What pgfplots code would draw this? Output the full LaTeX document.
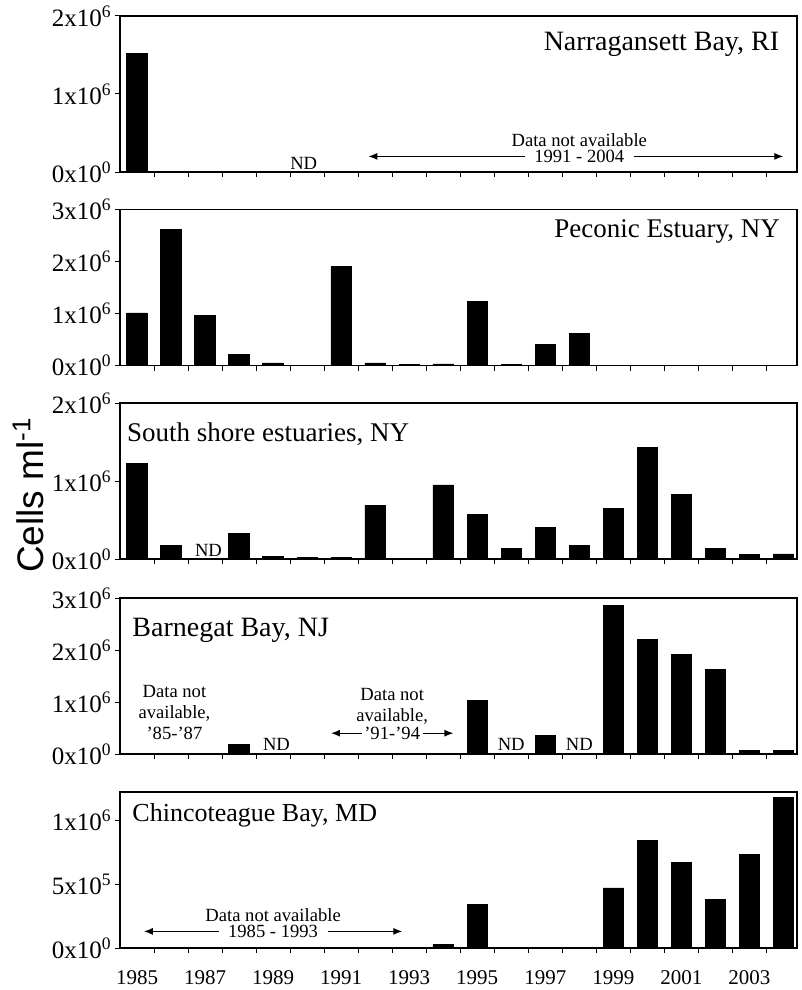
\documentclass[border=0pt]{standalone}
\usepackage{fontspec}
\setmainfont{Liberation Serif}
\newfontfamily\labelsans{Liberation Sans}
\usepackage{pgfplots}
\pgfplotsset{compat=1.18}
\usetikzlibrary{arrows.meta}

\pgfplotsset{
  panel/.style={
    scale only axis, width=338.5pt, height=78pt,
    xmin=1984.5, xmax=2004.4, ymin=0,
    axis line style={line width=0.9pt},
    ybar, bar width=0.6,
    xtick={1985,1987,...,2003}, xticklabels={},
    major x tick style={draw=none},
    minor xtick={1985.5,1986.5,...,2003.5},
    xtick pos=lower, ytick pos=left,
    tick align=outside, major tick length=2.5pt, minor tick length=2.5pt,
    tick style={line width=0.5pt, black},
    yticklabel style={font=\fontsize{12.5}{14}\selectfont, inner sep=1.5pt},
    xticklabel style={font=\fontsize{10.5}{12}\selectfont, yshift=-4.5pt,
      text height=7.5pt, text depth=0pt},
    scaled y ticks=false,
  },
  cells/.style={fill=black, draw=black},
}
\tikzset{
  paneltitle/.style={font=\fontsize{13.5}{15}\selectfont},
  note/.style={font=\fontsize{9.3}{10.5}\selectfont, align=center, inner sep=0.5pt},
  na/.style={-{Latex[length=4.5pt,width=3.5pt]}, line width=0.6pt},
}

\begin{document}
\begin{tikzpicture}

% Narragansett Bay, RI
\begin{axis}[panel, at={(60pt,-8pt)}, anchor=north west,
  ymax=2e6, ytick={0,1e6,2e6},
  yticklabels={0x10\textsuperscript{0},1x10\textsuperscript{6},2x10\textsuperscript{6}}]
\addplot[cells] coordinates {(1985,1.52e6)};
\node[paneltitle, anchor=east, font=\fontsize{14}{15}\selectfont] at (rel axis cs:0.984,0.82) {Narragansett Bay, RI};
\node[note, anchor=south] at (axis cs:1989.9,0.01e6) {ND};
\node[note] at (axis cs:1998,0.405e6) {Data not available};
\node[note] at (axis cs:1998,0.20e6) {1991 - 2004};
\draw[na] (axis cs:1996.4,0.20e6) -- (axis cs:1991.8,0.20e6);
\draw[na] (axis cs:1999.6,0.20e6) -- (axis cs:2004.0,0.20e6);
\end{axis}

% Peconic Estuary, NY
\begin{axis}[panel, at={(60pt,-104.75pt)}, anchor=north west,
  ymax=3e6, ytick={0,1e6,2e6,3e6},
  yticklabels={0x10\textsuperscript{0},1x10\textsuperscript{6},2x10\textsuperscript{6},3x10\textsuperscript{6}}]
\addplot[cells] coordinates {
  (1985,1.01e6) (1986,2.62e6) (1987,0.96e6) (1988,0.21e6) (1989,0.05e6)
  (1991,1.90e6) (1992,0.05e6) (1993,0.02e6) (1994,0.03e6) (1995,1.23e6)
  (1996,0.02e6) (1997,0.40e6) (1998,0.62e6)};
\node[paneltitle, anchor=east] at (rel axis cs:0.985,0.86) {Peconic Estuary, NY};
\end{axis}

% South shore estuaries, NY
\begin{axis}[panel, at={(60pt,-201.5pt)}, anchor=north west,
  ymax=2e6, ytick={0,1e6,2e6},
  yticklabels={0x10\textsuperscript{0},1x10\textsuperscript{6},2x10\textsuperscript{6}}]
\addplot[cells] coordinates {
  (1985,1.23e6) (1986,0.17e6) (1988,0.33e6) (1989,0.03e6) (1990,0.02e6)
  (1991,0.02e6) (1992,0.69e6) (1994,0.95e6) (1995,0.57e6) (1996,0.14e6)
  (1997,0.40e6) (1998,0.17e6) (1999,0.65e6) (2000,1.43e6) (2001,0.83e6)
  (2002,0.13e6) (2003,0.055e6) (2004,0.065e6)};
\node[paneltitle, anchor=west] at (rel axis cs:0.0,0.80) {South shore estuaries, NY};
\node[note, anchor=south] at (axis cs:1987.1,0.02e6) {ND};
\end{axis}

% Barnegat Bay, NJ
\begin{axis}[panel, at={(60pt,-299pt)}, anchor=north west,
  ymax=3e6, ytick={0,1e6,2e6,3e6},
  yticklabels={0x10\textsuperscript{0},1x10\textsuperscript{6},2x10\textsuperscript{6},3x10\textsuperscript{6}}]
\addplot[cells] coordinates {
  (1988,0.18e6) (1995,1.03e6) (1997,0.35e6) (1999,2.85e6) (2000,2.20e6)
  (2001,1.91e6) (2002,1.62e6) (2003,0.077e6) (2004,0.065e6)};
\node[paneltitle, anchor=west, font=\fontsize{14}{15}\selectfont] at (rel axis cs:0.008,0.79) {Barnegat Bay, NJ};
\node[note] at (axis cs:1986.1,0.80e6) {Data not\\available,\\'85-'87};
\node[note, anchor=south] at (axis cs:1989.1,0.04e6) {ND};
\node[note] at (axis cs:1992.5,0.92e6) {Data not\\available,};
\node[note] at (axis cs:1992.5,0.40e6) {'91-'94};
\draw[na] (axis cs:1991.6,0.40e6) -- (axis cs:1990.7,0.40e6);
\draw[na] (axis cs:1993.4,0.40e6) -- (axis cs:1994.3,0.40e6);
\node[note, anchor=south] at (axis cs:1996.0,0.04e6) {ND};
\node[note, anchor=south] at (axis cs:1998.0,0.04e6) {ND};
\end{axis}

% Chincoteague Bay, MD
\begin{axis}[panel, at={(60pt,-396pt)}, anchor=north west,
  ymax=1.22e6, ytick={0,5e5,1e6},
  yticklabels={0x10\textsuperscript{0},5x10\textsuperscript{5},1x10\textsuperscript{6}},
  xticklabels={1985,1987,1989,1991,1993,1995,1997,1999,2001,2003}]
\addplot[cells] coordinates {
  (1994,0.026e6) (1995,0.34e6) (1999,0.47e6) (2000,0.84e6) (2001,0.67e6)
  (2002,0.38e6) (2003,0.73e6) (2004,1.18e6)};
\node[paneltitle, anchor=west, font=\fontsize{13}{15}\selectfont] at (rel axis cs:0.008,0.85) {Chincoteague Bay, MD};
\node[note] at (axis cs:1989.0,0.26e6) {Data not available};
\node[note] at (axis cs:1989.0,0.13e6) {1985 - 1993};
\draw[na] (axis cs:1987.4,0.13e6) -- (axis cs:1985.2,0.13e6);
\draw[na] (axis cs:1990.6,0.13e6) -- (axis cs:1992.8,0.13e6);
\end{axis}

% shared y label
\node[rotate=90, anchor=base, inner sep=0pt, font=\labelsans\fontsize{18.5}{20}\selectfont]
  at (21.5pt,-247.5pt) {Cells ml\textsuperscript{-1}};

\pgfresetboundingbox
\path[use as bounding box] (0,0) rectangle (401pt,-495pt);
\end{tikzpicture}
\end{document}
